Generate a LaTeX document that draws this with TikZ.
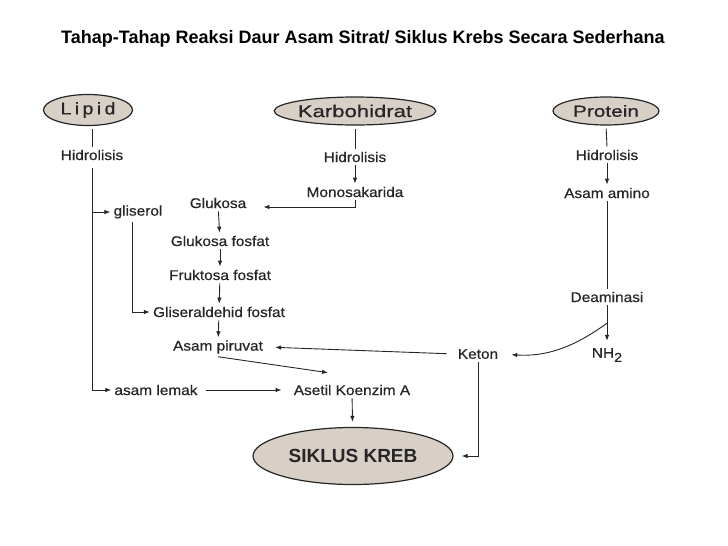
\documentclass[tikz,border=0pt]{standalone}
\usepackage{fontspec}
\setmainfont{Liberation Sans}
\newfontfamily\lblfont[FakeStretch=1.1,FakeBold=0.6]{Liberation Sans}
\newfontfamily\ovalfont[FakeStretch=1.3,FakeBold=0.6]{Liberation Sans}
\newfontfamily\lipfont[FakeStretch=1.15,FakeBold=0.6,LetterSpace=20]{Liberation Sans}
\usetikzlibrary{arrows.meta, shapes.geometric}
\definecolor{krInk}{HTML}{262626}
\definecolor{krFill}{HTML}{D8CFC7}

\begin{document}
\begin{tikzpicture}[
    x=1pt, y=-1pt,
    lbl/.style={font=\lblfont\fontsize{14}{16}\selectfont, text=krInk, inner sep=3pt},
    oval/.style={ellipse, draw=krInk, line width=1.2pt, fill=krFill, inner sep=0pt,
                 font=\ovalfont\fontsize{17}{19}\selectfont, text=krInk},
    ln/.style={draw=krInk, line width=0.9pt},
    arr/.style={ln, -{Latex[length=6pt, width=4.5pt]}},
  ]
  \useasboundingbox (0,0) rectangle (728,546);
  \node[font=\bfseries\fontsize{18}{20}\selectfont, text=black] (title) at (363,39)
    {Tahap-Tahap Reaksi Daur Asam Sitrat/ Siklus Krebs Secara Sederhana};

  % the three sources
  \node[oval, font=\lipfont\fontsize{17}{19}\selectfont, minimum width=89pt, minimum height=31pt] (lipid) at (88,110) {Lipid};
  \node[oval, minimum width=156pt, minimum height=28pt] (karbo) at (355,111) {Karbohidrat};
  \node[oval, font=\ovalfont\fontsize{16}{18}\selectfont, minimum width=106pt, minimum height=28pt] (protein) at (606,111) {Protein};

  \node[lbl] (hidL) at (92,155) {Hidrolisis};
  \node[lbl] (hidK) at (355,157) {Hidrolisis};
  \node[lbl] (hidP) at (607,155) {Hidrolisis};
  \node[lbl] (mono) at (355,192) {Monosakarida};
  \node[lbl] (amino) at (607,193) {Asam amino};

  \node[lbl] (glis) at (138,212) {gliserol};
  \node[lbl] (gluk) at (218,203) {Glukosa};
  \node[lbl] (gfos) at (220,241) {Glukosa fosfat};
  \node[lbl] (ffos) at (220,275) {Fruktosa fosfat};
  \node[lbl] (gald) at (219,312) {Gliseraldehid fosfat};
  \node[lbl] (piruvat) at (218,347) {Asam piruvat};

  \node[lbl] (deam) at (607,297) {Deaminasi};
  \node[lbl] (nh2) at (607,355) {NH\raisebox{-0.3em}{\fontsize{13}{13}\selectfont 2}};
  \node[lbl] (keton) at (478,354) {Keton};

  \node[lbl] (lemak) at (156,390) {asam lemak};
  \node[lbl] (asetil) at (352,390) {Asetil Koenzim A};
  \node[oval, font=\bfseries\fontsize{19}{21}\selectfont, minimum width=200pt, minimum height=57pt] (kreb) at (353,456) {SIKLUS KREB};

  % lipid branch
  \draw[ln, shorten <=3pt] (hidL.north |- lipid.south) -- (hidL.north);
  \draw[arr, shorten <=5pt] (hidL.south) |- (lemak.west);
  \draw[arr] (hidL.south |- glis.west) -- (glis.west);
  \draw[arr] ([xshift=-6pt]glis.south) |- (gald.west);
  \draw[arr, shorten <=5pt, shorten >=9pt] (lemak.east) -- (asetil.west);

  % karbohidrat branch
  \draw[ln, shorten <=3pt] (karbo.south) -- (hidK.north);
  \draw[arr] (hidK) -- (mono);
  \draw[arr, shorten >=14pt] (mono.south) |- ([yshift=-4pt]gluk.east);
  \draw[arr] (gluk) -- (gfos);
  \draw[arr] (gfos) -- (ffos);
  \draw[arr] (ffos) -- (gald);
  \draw[arr] (gald) -- (piruvat);
  \draw[arr] (piruvat.south) -- ([xshift=-24pt,yshift=9pt]asetil.north);

  % protein branch
  \draw[ln, shorten <=3pt] (protein.south) -- (hidP.north);
  \draw[arr] (hidP) -- (amino);
  \draw[ln] (amino) -- (deam);
  \draw[arr, shorten >=4pt] (deam) -- coordinate[pos=0.45] (split) (nh2);
  \draw[arr, shorten >=10pt] (split) to[bend left=20] (keton.east);
  \draw[arr, shorten <=8pt, shorten >=9pt] (keton.west) -- (piruvat.east);

  % into the cycle
  \draw[arr, shorten >=5pt] (asetil) -- (kreb);
  \draw[arr, shorten >=8pt] (keton.south) |- (kreb.east);
\end{tikzpicture}
\end{document}
